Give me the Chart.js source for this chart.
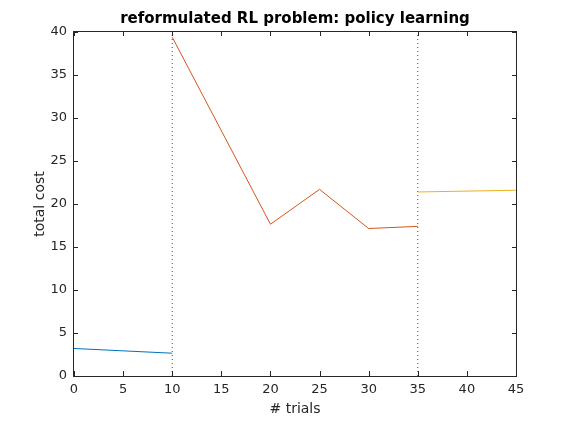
<!DOCTYPE html>
<html>
<head>
<meta charset="utf-8">
<script src="https://cdn.jsdelivr.net/npm/chart.js@4/dist/chart.umd.min.js"></script>
<style>
  html, body { margin: 0; padding: 0; background: #fff; }
  #wrap { width: 570px; height: 422px; }
</style>
</head>
<body>
<div id="wrap"><canvas id="c" width="570" height="422"></canvas></div>
<script>
// 값은 그림에서 읽은 추정치
const xTicks = [0, 5, 10, 15, 20, 25, 30, 35, 40, 45];
const yTicks = [0, 5, 10, 15, 20, 25, 30, 35, 40];

const phase1X = [0, 10];
const phase1Y = [3.2, 2.65];
const phase2X = [10, 20, 25, 30, 35];
const phase2Y = [39.4, 17.65, 21.7, 17.15, 17.4];
const phase3X = [35, 45];
const phase3Y = [21.4, 21.6];
const switchX = [10, 35];

const TEXT = "#262626";
const FONT = "DejaVu Sans, sans-serif";

const pts = (xs, ys) => xs.map((x, i) => ({ x, y: ys[i] }));

const lineSet = (data, color) => ({
  data,
  borderColor: color,
  backgroundColor: color,
  borderWidth: 1,
  pointRadius: 0,
  tension: 0,
  fill: false,
});

const datasets = [
  lineSet(pts(phase1X, phase1Y), "#0072BD"),
  lineSet(pts(phase2X, phase2Y), "#D95319"),
  lineSet(pts(phase3X, phase3Y), "#EDB120"),
  ...switchX.map((x) => ({
    ...lineSet([{ x, y: yTicks[0] }, { x, y: yTicks[yTicks.length - 1] }], "#2f4f73"),
    borderDash: [1, 3],
  })),
];

// MATLAB 스타일: 박스, 안쪽 눈금, 제목들 (선은 fillRect 로 1px 고정)
const matlabAxes = {
  id: "matlabAxes",
  afterDraw(chart) {
    const { ctx, chartArea: a, scales } = chart;
    const L = Math.round(a.left) - 1, R = Math.round(a.right);
    const T = Math.round(a.top) - 1, B = Math.round(a.bottom);
    ctx.save();
    ctx.fillStyle = TEXT;
    ctx.fillRect(L, T, R - L + 1, 1);
    ctx.fillRect(L, B, R - L + 1, 1);
    ctx.fillRect(L, T, 1, B - T + 1);
    ctx.fillRect(R, T, 1, B - T + 1);
    const len = 5;
    xTicks.forEach((v) => {
      const px = Math.round(scales.x.getPixelForValue(v));
      ctx.fillRect(px, B - len, 1, len);
      ctx.fillRect(px, T, 1, len);
    });
    yTicks.forEach((v) => {
      const py = Math.round(scales.y.getPixelForValue(v));
      ctx.fillRect(L, py, len, 1);
      ctx.fillRect(R - len + 1, py, len, 1);
    });

    ctx.fillStyle = "#000";
    ctx.textAlign = "center";
    ctx.textBaseline = "middle";
    ctx.font = "bold 15px " + FONT;
    ctx.fillText("reformulated RL problem: policy learning", (a.left + a.right) / 2, 19);

    ctx.fillStyle = TEXT;
    ctx.font = "14px " + FONT;
    ctx.fillText("# trials", (a.left + a.right) / 2, 409);
    ctx.translate(40, (a.top + a.bottom) / 2);
    ctx.rotate(-Math.PI / 2);
    ctx.fillText("total cost", 0, 0);
    ctx.restore();
  },
};

new Chart(document.getElementById("c"), {
  type: "line",
  data: { datasets },
  plugins: [matlabAxes],
  options: {
    responsive: false,
    animation: false,
    layout: { padding: { left: 0, top: 32, right: 54, bottom: 0 } },
    plugins: { legend: { display: false }, tooltip: { enabled: false } },
    scales: {
      x: {
        type: "linear",
        min: 0,
        max: 45,
        afterFit: (s) => { s.height = 46; },
        afterBuildTicks: (s) => { s.ticks = xTicks.map((v) => ({ value: v })); },
        grid: { display: false, drawTicks: false },
        border: { display: false },
        ticks: { color: TEXT, font: { family: FONT, size: 13 }, padding: 6, maxRotation: 0 },
      },
      y: {
        type: "linear",
        min: 0,
        max: 40,
        afterFit: (s) => { s.width = 74; },
        afterBuildTicks: (s) => { s.ticks = yTicks.map((v) => ({ value: v })); },
        grid: { display: false, drawTicks: false },
        border: { display: false },
        ticks: { color: TEXT, font: { family: FONT, size: 13 }, padding: 7 },
      },
    },
  },
});
</script>
</body>
</html>
